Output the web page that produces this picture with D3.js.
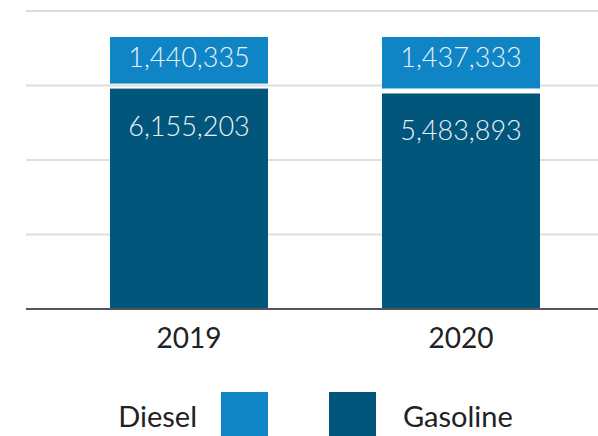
<!DOCTYPE html>
<html>
<head>
<meta charset="utf-8">
<script src="https://cdn.jsdelivr.net/npm/d3@7"></script>
<style>
  html, body { margin: 0; padding: 0; background: #fff; }
  svg { display: block; font-family: Lato, "Open Sans", sans-serif; }
</style>
</head>
<body>
<svg id="chart" width="598" height="436"></svg>
<script>
const years = ["2019", "2020"];
const seriesNames = ["Gasoline", "Diesel"];
const gasoline = [6155203, 5483893];
const diesel = [1440335, 1437333];
const gridSteps = [1, 2, 3, 4];

const colors = { Gasoline: "#02567b", Diesel: "#0f85c5" };

const rows = years.map((y, i) => ({ year: y, Gasoline: gasoline[i], Diesel: diesel[i] }));
const stacked = d3.stack().keys(seriesNames).offset(d3.stackOffsetExpand)(rows);

const svg = d3.select("#chart");
const baseY = 309;

const x = d3.scaleBand().domain(years).range([53, 597]).paddingInner(0.419).paddingOuter(0.2095);
const y = d3.scaleLinear().domain([0, 1]).range([baseY, 37]);
const gridY = d3.scaleLinear().domain([0, 4]).range([baseY, 11]);

// gridlines
svg.append("g").selectAll("line").data(gridSteps).join("line")
  .attr("x1", 26).attr("x2", 598)
  .attr("y1", d => gridY(d)).attr("y2", d => gridY(d))
  .attr("stroke", "#dedede").attr("stroke-width", 2);

const gap = 5;
const fmt = d3.format(",");

stacked.forEach(layer => {
  const key = layer.key;
  const g = svg.append("g");
  g.selectAll("rect").data(layer).join("rect")
    .attr("x", d => x(d.data.year))
    .attr("width", x.bandwidth())
    .attr("y", d => y(d[1]))
    .attr("height", d => (y(d[0]) - y(d[1])) - (d[0] > 0 ? gap : 0))
    .attr("fill", colors[key]);
  g.selectAll("text").data(layer).join("text")
    .attr("x", d => x(d.data.year) + x.bandwidth() / 2)
    .attr("y", d => key === "Diesel" ? y(d[1]) + 30 : y(d[1]) + 47)
    .attr("text-anchor", "middle")
    .attr("font-size", 27)
    .attr("font-weight", 300)
    .attr("fill", "#eaf2f7")
    .text(d => fmt(d.data[key]));
});

// baseline axis
svg.append("line")
  .attr("x1", 26).attr("x2", 598)
  .attr("y1", baseY).attr("y2", baseY)
  .attr("stroke", "#555").attr("stroke-width", 2);

const xAxis = d3.axisBottom(x).tickSize(0).tickPadding(0);
const ax = svg.append("g").attr("transform", `translate(0,${baseY})`).call(xAxis);
ax.select(".domain").remove();
ax.selectAll("text")
  .attr("dy", null)
  .attr("y", 39)
  .attr("font-size", 28)
  .attr("font-family", "Lato, sans-serif")
  .attr("fill", "#222");

// legend
const legendItems = [
  { name: "Diesel", textX: 197, anchor: "end", boxX: 221 },
  { name: "Gasoline", textX: 403, anchor: "start", boxX: 329 }
];
const lg = svg.append("g");
lg.selectAll("rect").data(legendItems).join("rect")
  .attr("x", d => d.boxX).attr("y", 392)
  .attr("width", 47).attr("height", 47)
  .attr("fill", d => colors[d.name]);
lg.selectAll("text").data(legendItems).join("text")
  .attr("x", d => d.textX).attr("y", 427)
  .attr("text-anchor", d => d.anchor)
  .attr("font-size", 29)
  .attr("fill", "#222")
  .text(d => d.name);
</script>
</body>
</html>
